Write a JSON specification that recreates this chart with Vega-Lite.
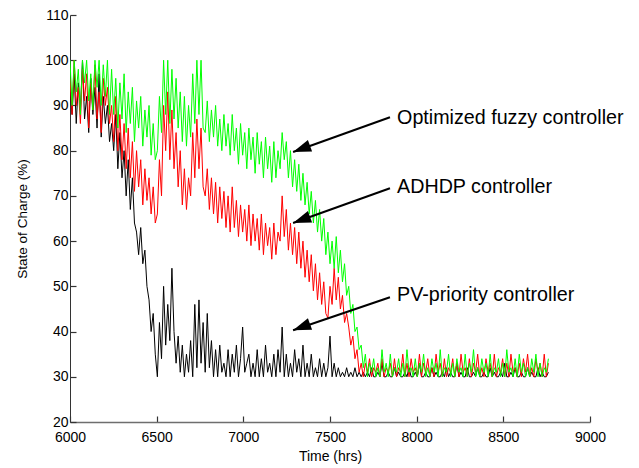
{
"$schema": "https://vega.github.io/schema/vega-lite/v6.json",
"width": 520, "height": 407,
"autosize": {"type": "none"},
"padding": {"left": 70, "top": 15, "right": 49, "bottom": 46},
"background": "white",
"config": {"view": {"stroke": null}, "font": "Liberation Sans"},
"datasets": {
"soc": [
{"t":6000,"k":93,"r":96,"g":100},{"t":6012,"k":88,"r":88,"g":90},{"t":6024,"k":97,"r":100,"g":100},{"t":6036,"k":86,"r":90,"g":93},{"t":6048,"k":95,"r":94,"g":98},
{"t":6060,"k":89,"r":86,"g":88},{"t":6072,"k":100,"r":98,"g":100},{"t":6084,"k":87,"r":91,"g":95},{"t":6096,"k":92,"r":97,"g":100},{"t":6108,"k":84,"r":85,"g":91},
{"t":6120,"k":96,"r":95,"g":97},{"t":6132,"k":88,"r":89,"g":89},{"t":6144,"k":94,"r":99,"g":100},{"t":6156,"k":85,"r":87,"g":94},{"t":6168,"k":97,"r":93,"g":100},
{"t":6180,"k":83,"r":84,"g":90},{"t":6192,"k":92,"r":96,"g":99},{"t":6204,"k":86,"r":90,"g":92},{"t":6216,"k":90,"r":94,"g":100},{"t":6228,"k":82,"r":86,"g":88},
{"t":6240,"k":86,"r":90,"g":98},{"t":6252,"k":80,"r":82,"g":88},{"t":6264,"k":88,"r":92,"g":96},{"t":6276,"k":76,"r":80,"g":85},{"t":6288,"k":84,"r":88,"g":95},
{"t":6300,"k":74,"r":78,"g":87},{"t":6312,"k":80,"r":86,"g":97},{"t":6324,"k":70,"r":76,"g":84},{"t":6336,"k":78,"r":85,"g":93},{"t":6348,"k":67,"r":74,"g":86},
{"t":6360,"k":74,"r":82,"g":94},{"t":6372,"k":64,"r":71,"g":82},{"t":6384,"k":62,"r":80,"g":91},{"t":6396,"k":57,"r":72,"g":85},{"t":6408,"k":63,"r":78,"g":92},
{"t":6420,"k":55,"r":68,"g":81},{"t":6432,"k":58,"r":76,"g":89},{"t":6444,"k":50,"r":69,"g":83},{"t":6456,"k":47,"r":74,"g":90},{"t":6468,"k":40,"r":66,"g":79},
{"t":6480,"k":44,"r":72,"g":86},{"t":6492,"k":35,"r":64,"g":78},{"t":6504,"k":30,"r":66,"g":80},{"t":6516,"k":42,"r":78,"g":92},{"t":6528,"k":34,"r":70,"g":84},
{"t":6540,"k":50,"r":90,"g":100},{"t":6552,"k":37,"r":80,"g":88},{"t":6564,"k":46,"r":93,"g":100},{"t":6576,"k":38,"r":78,"g":86},{"t":6588,"k":54,"r":89,"g":98},
{"t":6600,"k":40,"r":76,"g":87},{"t":6612,"k":33,"r":84,"g":96},{"t":6624,"k":39,"r":72,"g":85},{"t":6636,"k":31,"r":80,"g":93},{"t":6648,"k":37,"r":68,"g":82},
{"t":6660,"k":30,"r":76,"g":92},{"t":6672,"k":35,"r":67,"g":81},{"t":6684,"k":31,"r":74,"g":90},{"t":6696,"k":38,"r":70,"g":83},{"t":6708,"k":30,"r":84,"g":97},
{"t":6720,"k":46,"r":74,"g":86},{"t":6732,"k":32,"r":87,"g":100},{"t":6744,"k":47,"r":76,"g":88},{"t":6756,"k":33,"r":85,"g":100},{"t":6768,"k":42,"r":72,"g":85},
{"t":6780,"k":31,"r":70,"g":84},{"t":6792,"k":44,"r":76,"g":91},{"t":6804,"k":32,"r":67,"g":82},{"t":6816,"k":38,"r":74,"g":89},{"t":6828,"k":30,"r":66,"g":83},
{"t":6840,"k":36,"r":73,"g":90},{"t":6852,"k":30,"r":64,"g":81},{"t":6864,"k":37,"r":72,"g":87},{"t":6876,"k":31,"r":65,"g":80},{"t":6888,"k":33,"r":71,"g":88},
{"t":6900,"k":30,"r":63,"g":81},{"t":6912,"k":36,"r":70,"g":86},{"t":6924,"k":30,"r":62,"g":79},{"t":6936,"k":35,"r":72,"g":88},{"t":6948,"k":31,"r":63,"g":80},
{"t":6960,"k":37,"r":69,"g":85},{"t":6972,"k":30,"r":61,"g":77},{"t":6984,"k":34,"r":68,"g":86},{"t":6996,"k":41,"r":62,"g":79},{"t":7008,"k":31,"r":67,"g":84},
{"t":7020,"k":33,"r":60,"g":76},{"t":7032,"k":35,"r":68,"g":85},{"t":7044,"k":30,"r":59,"g":78},{"t":7056,"k":33,"r":66,"g":83},{"t":7068,"k":30,"r":60,"g":75},
{"t":7080,"k":36,"r":65,"g":84},{"t":7092,"k":30,"r":58,"g":77},{"t":7104,"k":34,"r":66,"g":82},{"t":7116,"k":30,"r":57,"g":74},{"t":7128,"k":37,"r":64,"g":83},
{"t":7140,"k":31,"r":59,"g":76},{"t":7152,"k":33,"r":63,"g":81},{"t":7164,"k":30,"r":56,"g":73},{"t":7176,"k":35,"r":64,"g":82},{"t":7188,"k":30,"r":57,"g":74},
{"t":7200,"k":36,"r":62,"g":80},{"t":7212,"k":31,"r":60,"g":76},{"t":7224,"k":41,"r":70,"g":84},{"t":7236,"k":30,"r":61,"g":78},{"t":7248,"k":35,"r":67,"g":82},
{"t":7260,"k":30,"r":58,"g":74},{"t":7272,"k":33,"r":64,"g":80},{"t":7284,"k":30,"r":57,"g":72},{"t":7296,"k":36,"r":63,"g":78},{"t":7308,"k":31,"r":55,"g":71},
{"t":7320,"k":34,"r":62,"g":77},{"t":7332,"k":30,"r":54,"g":69},{"t":7344,"k":37,"r":60,"g":75},{"t":7356,"k":30,"r":52,"g":68},{"t":7368,"k":33,"r":58,"g":73},
{"t":7380,"k":30,"r":51,"g":66},{"t":7392,"k":35,"r":57,"g":71},{"t":7404,"k":30,"r":49,"g":64},{"t":7416,"k":32,"r":55,"g":69},{"t":7428,"k":30,"r":47,"g":62},
{"t":7440,"k":34,"r":53,"g":67},{"t":7452,"k":30,"r":46,"g":60},{"t":7464,"k":33,"r":51,"g":65},{"t":7476,"k":30,"r":44,"g":57},{"t":7488,"k":32,"r":43,"g":62},
{"t":7500,"k":39,"r":50,"g":55},{"t":7512,"k":30,"r":46,"g":60},{"t":7524,"k":33,"r":54,"g":54},{"t":7536,"k":30,"r":47,"g":61},{"t":7548,"k":32,"r":52,"g":53},
{"t":7560,"k":30,"r":45,"g":58},{"t":7572,"k":31,"r":48,"g":51},{"t":7584,"k":30,"r":42,"g":55},{"t":7596,"k":32,"r":44,"g":48},{"t":7608,"k":30,"r":41,"g":50},
{"t":7620,"k":31,"r":37,"g":44},{"t":7632,"k":30,"r":39,"g":46},{"t":7644,"k":32,"r":34,"g":40},{"t":7656,"k":30,"r":36,"g":41},{"t":7668,"k":31,"r":31,"g":36},
{"t":7680,"k":30,"r":33,"g":37},{"t":7692,"k":31,"r":30,"g":32},
{"t":7704,"k":30,"r":33,"g":35},{"t":7716,"k":31,"r":31,"g":30},{"t":7728,"k":30,"r":34,"g":33},{"t":7740,"k":32,"r":30,"g":31},{"t":7752,"k":30,"r":32,"g":34},
{"t":7764,"k":30,"r":31,"g":30},{"t":7776,"k":31,"r":33,"g":32},{"t":7788,"k":30,"r":30,"g":30},{"t":7800,"k":33,"r":34,"g":36},{"t":7812,"k":30,"r":30,"g":31},
{"t":7824,"k":30,"r":32,"g":33},{"t":7836,"k":31,"r":31,"g":30},{"t":7848,"k":30,"r":33,"g":35},{"t":7860,"k":30,"r":30,"g":30},{"t":7872,"k":32,"r":34,"g":32},
{"t":7884,"k":30,"r":30,"g":31},{"t":7896,"k":31,"r":32,"g":34},{"t":7908,"k":30,"r":31,"g":30},{"t":7920,"k":30,"r":35,"g":33},{"t":7932,"k":31,"r":30,"g":30},
{"t":7944,"k":30,"r":33,"g":36},{"t":7956,"k":32,"r":30,"g":31},{"t":7968,"k":30,"r":34,"g":32},{"t":7980,"k":30,"r":31,"g":30},{"t":7992,"k":31,"r":32,"g":34},
{"t":8004,"k":30,"r":30,"g":30},{"t":8016,"k":33,"r":35,"g":33},{"t":8028,"k":30,"r":30,"g":31},{"t":8040,"k":30,"r":33,"g":35},{"t":8052,"k":31,"r":31,"g":30},
{"t":8064,"k":30,"r":34,"g":32},{"t":8076,"k":30,"r":30,"g":30},{"t":8088,"k":32,"r":32,"g":34},{"t":8100,"k":30,"r":30,"g":31},{"t":8112,"k":31,"r":35,"g":33},
{"t":8124,"k":30,"r":31,"g":30},{"t":8136,"k":30,"r":33,"g":36},{"t":8148,"k":31,"r":30,"g":30},{"t":8160,"k":30,"r":34,"g":32},{"t":8172,"k":32,"r":30,"g":31},
{"t":8184,"k":30,"r":32,"g":35},{"t":8196,"k":31,"r":31,"g":30},{"t":8208,"k":30,"r":34,"g":33},{"t":8220,"k":30,"r":30,"g":30},{"t":8232,"k":33,"r":33,"g":34},
{"t":8244,"k":30,"r":30,"g":31},{"t":8256,"k":31,"r":35,"g":32},{"t":8268,"k":30,"r":31,"g":30},{"t":8280,"k":30,"r":32,"g":35},{"t":8292,"k":32,"r":30,"g":30},
{"t":8304,"k":30,"r":34,"g":33},{"t":8316,"k":30,"r":30,"g":31},{"t":8328,"k":31,"r":33,"g":36},{"t":8340,"k":30,"r":31,"g":30},{"t":8352,"k":32,"r":35,"g":32},
{"t":8364,"k":30,"r":30,"g":30},{"t":8376,"k":30,"r":32,"g":34},{"t":8388,"k":31,"r":30,"g":31},{"t":8400,"k":30,"r":34,"g":33},{"t":8412,"k":30,"r":31,"g":30},
{"t":8424,"k":32,"r":33,"g":35},{"t":8436,"k":30,"r":30,"g":30},{"t":8448,"k":31,"r":35,"g":32},{"t":8460,"k":30,"r":30,"g":31},{"t":8472,"k":30,"r":32,"g":34},
{"t":8484,"k":31,"r":31,"g":30},{"t":8496,"k":30,"r":34,"g":33},{"t":8508,"k":33,"r":30,"g":30},{"t":8520,"k":30,"r":33,"g":36},{"t":8532,"k":30,"r":30,"g":31},
{"t":8544,"k":31,"r":35,"g":32},{"t":8556,"k":30,"r":31,"g":30},{"t":8568,"k":32,"r":32,"g":34},{"t":8580,"k":30,"r":30,"g":30},{"t":8592,"k":30,"r":33,"g":35},
{"t":8604,"k":31,"r":30,"g":31},{"t":8616,"k":30,"r":34,"g":33},{"t":8628,"k":30,"r":31,"g":30},{"t":8640,"k":32,"r":35,"g":32},{"t":8652,"k":30,"r":30,"g":30},
{"t":8664,"k":31,"r":32,"g":34},{"t":8676,"k":30,"r":30,"g":31},{"t":8688,"k":30,"r":34,"g":35},{"t":8700,"k":32,"r":31,"g":30},{"t":8712,"k":30,"r":33,"g":33},
{"t":8724,"k":31,"r":30,"g":30},{"t":8736,"k":30,"r":35,"g":32},{"t":8748,"k":30,"r":30,"g":31},{"t":8760,"k":31,"r":33,"g":34}
],
"arrows": [
{"label": "Optimized fuzzy controller", "tx": 7846, "ty": 87.4, "hx": 7287, "hy": 79.7, "lx": 7887, "ly": 85.9},
{"label": "ADHDP controller", "tx": 7846, "ty": 71.7, "hx": 7287, "hy": 64.0, "lx": 7887, "ly": 70.6},
{"label": "PV-priority controller", "tx": 7846, "ty": 47.6, "hx": 7287, "hy": 40.3, "lx": 7887, "ly": 46.75}
]
},
"layer": [
{
"data": {"name": "soc"},
"mark": {"type": "line", "color": "#000000", "strokeWidth": 1, "clip": true},
"encoding": {
"x": {"field": "t", "type": "quantitative",
"scale": {"domain": [6000, 9000], "nice": false, "zero": false},
"axis": {"title": "Time (hrs)", "values": [6000, 6500, 7000, 7500, 8000, 8500, 9000], "format": "d",
"grid": false, "ticks": true, "tickSize": -6, "tickWidth": 1.2, "tickColor": "#333333", "domainColor": "#6e6e6e", "domainWidth": 1.5,
"labelFlush": false, "labelOverlap": false,
"labelFontSize": 14, "labelColor": "#000000", "labelPadding": 14, "labelFont": "Liberation Sans",
"titleFontSize": 14, "titleFontWeight": "normal", "titleColor": "#000000", "titlePadding": 5, "titleFont": "Liberation Sans"}},
"y": {"field": "k", "type": "quantitative",
"scale": {"domain": [20, 110], "nice": false, "zero": false},
"axis": {"title": "State of Charge (%)", "values": [20, 30, 40, 50, 60, 70, 80, 90, 100, 110],
"grid": false, "ticks": true, "tickSize": -6, "tickWidth": 1.2, "tickColor": "#333333", "domainColor": "#333333", "domainWidth": 1,
"labelFlush": false, "labelOverlap": false,
"labelFontSize": 14, "labelColor": "#000000", "labelPadding": 8, "labelFont": "Liberation Sans",
"titleFontSize": 13.5, "titleFontWeight": "normal", "titleColor": "#000000", "titlePadding": 15, "titleFont": "Liberation Sans"}}
}
},
{
"data": {"name": "soc"},
"mark": {"type": "line", "color": "#ff0000", "strokeWidth": 1, "clip": true},
"encoding": {"x": {"field": "t", "type": "quantitative"}, "y": {"field": "r", "type": "quantitative"}}
},
{
"data": {"name": "soc"},
"mark": {"type": "line", "color": "#00ff00", "strokeWidth": 1, "clip": true},
"encoding": {"x": {"field": "t", "type": "quantitative"}, "y": {"field": "g", "type": "quantitative"}}
},
{
"data": {"name": "arrows"},
"mark": {"type": "rule", "color": "#000000", "strokeWidth": 2},
"encoding": {"x": {"field": "tx", "type": "quantitative"}, "y": {"field": "ty", "type": "quantitative"},
"x2": {"field": "hx"}, "y2": {"field": "hy"}}
},
{
"data": {"name": "arrows"},
"mark": {"type": "point", "shape": "M0,0L2,-0.68L2,0.68Z", "filled": true, "color": "#000000", "opacity": 1, "size": 324, "angle": -20, "strokeWidth": 0},
"encoding": {"x": {"field": "hx", "type": "quantitative"}, "y": {"field": "hy", "type": "quantitative"}}
},
{
"data": {"name": "arrows"},
"mark": {"type": "text", "align": "left", "baseline": "alphabetic", "fontSize": 19.7, "font": "Liberation Sans", "color": "#000000"},
"encoding": {"x": {"field": "lx", "type": "quantitative"}, "y": {"field": "ly", "type": "quantitative"}, "text": {"field": "label"}}
}
]
}
